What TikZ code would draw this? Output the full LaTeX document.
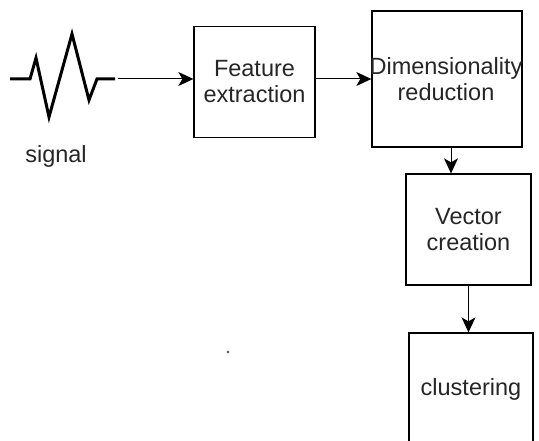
\documentclass[tikz,border=0pt]{standalone}
\usepackage{fontspec}
\setmainfont{Liberation Sans}
\usetikzlibrary{arrows.meta}
\tikzset{
  stage/.style={draw, line width=1.3pt, align=center, inner sep=0pt, text=black!85},
  flow/.style={-{Stealth[length=15pt,width=14pt,inset=4pt]}, line width=1pt}
}
\begin{document}
\begin{tikzpicture}[x=1pt,y=1pt,yscale=-1,xscale=1,font=\fontsize{23.5}{26}\selectfont]
\useasboundingbox (0,0) rectangle (539,441);
\clip (0,0) rectangle (539,441);

%Shape: signal
\draw [line width=3pt, line join=miter] (10,79) -- (30,79) -- (36,58) -- (49,117) -- (72,34) -- (89,100) -- (97,79) -- (115,79) ;
\coordinate (sig) at (118,79);
% Text Node
\node (siglabel) [text=black!85] at (56,156) {signal};

%Boxes
\node (feat) [stage, minimum width=121pt, minimum height=111pt] at (254.5,82) {Feature\\extraction};
\node (dim) [stage, minimum width=150pt, minimum height=136pt] at (447,79) {};
\node (dimtext) [align=center, text=black!85] at (446,79) {Dimensionality\\reduction};
\node (vec) [stage, minimum width=125pt, minimum height=111pt] at (468.5,229.5) {Vector\\creation};
\node (clus) [stage, minimum width=124pt, minimum height=112pt] at (471,389) {clustering};

%Arrows
\draw [flow] (sig) -- (feat.west |- sig) ;
\draw [flow] (feat.east |- sig) -- (dim.west |- sig) ;
\draw [flow] ([xshift=4pt]dim.south) -- ([xshift=4pt]dim.south |- vec.north) ;
\draw [flow] (vec.south) -- (vec.south |- clus.north) ;

%stray dot
\fill [black!70] (228,352) circle [radius=1.3] ;

\end{tikzpicture}
\end{document}
